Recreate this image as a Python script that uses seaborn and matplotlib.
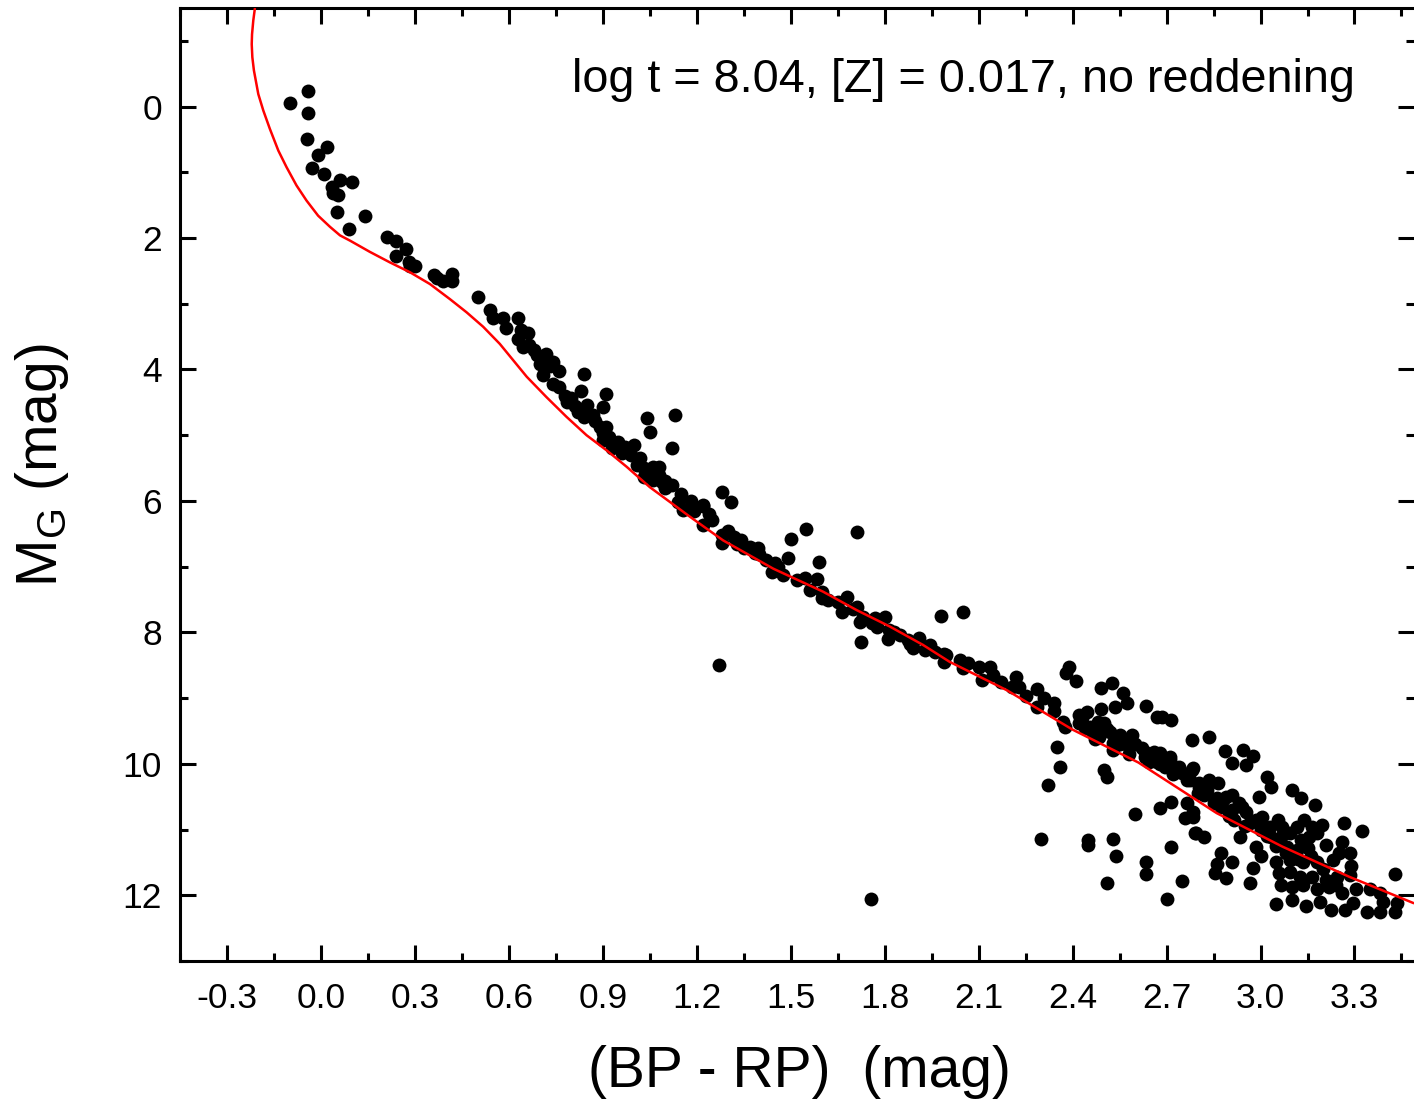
import numpy as np
import pandas as pd
import seaborn as sns
import matplotlib.pyplot as plt
from matplotlib.ticker import MultipleLocator

# upper main sequence (B/A stars)
upper_bp = [-0.10, -0.04, -0.04, -0.045, 0.02, -0.01, -0.03, 0.01, 0.06, 0.10, 0.035, 0.04, 0.055, 0.05,
            0.14, 0.09, 0.21, 0.24, 0.27, 0.24, 0.28, 0.30, 0.285, 0.36, 0.39, 0.42, 0.42, 0.37]
upper_mg = [-0.05, -0.23, 0.09, 0.49, 0.62, 0.74, 0.94, 1.03, 1.12, 1.14, 1.23, 1.32, 1.34, 1.61,
            1.67, 1.87, 1.98, 2.04, 2.16, 2.28, 2.36, 2.43, 2.42, 2.57, 2.66, 2.54, 2.66, 2.61]

# F/G stars
mid_bp = [0.50, 0.54, 0.55, 0.58, 0.63, 0.59, 0.64, 0.66, 0.63, 0.645, 0.665, 0.69, 0.72, 0.74, 0.70,
          0.71, 0.76, 0.74, 0.76, 0.84, 0.83, 0.785, 0.80, 0.85, 0.82, 0.84, 0.91, 0.90, 0.875, 0.89,
          0.91, 0.90, 0.92, 0.90, 1.04, 1.13, 1.05, 1.12, 0.93, 0.97, 1.00, 0.96, 1.02, 1.01, 1.03,
          1.06, 1.08, 1.03, 1.06, 1.08, 1.09, 1.12, 1.10, 1.14, 1.155, 1.19, 1.22,
          0.68, 0.73, 0.78, 0.81, 0.87, 0.95, 0.99, 1.05, 1.10, 1.15, 1.18]
mid_mg = [2.89, 3.09, 3.22, 3.21, 3.22, 3.37, 3.40, 3.44, 3.53, 3.66, 3.63, 3.78, 3.77, 3.88, 3.91,
          4.09, 4.03, 4.22, 4.27, 4.07, 4.32, 4.50, 4.44, 4.54, 4.64, 4.73, 4.38, 4.57, 4.79, 4.88,
          4.88, 4.97, 5.03, 5.08, 4.74, 4.70, 4.95, 5.20, 5.20, 5.18, 5.15, 5.27, 5.35, 5.46, 5.50,
          5.49, 5.49, 5.64, 5.68, 5.61, 5.71, 5.76, 5.81, 6.02, 6.14, 6.14, 6.06,
          3.70, 3.95, 4.40, 4.55, 4.70, 5.10, 5.30, 5.55, 5.70, 5.90, 6.00]

# K stars
k_bp = [1.28, 1.31, 1.22, 1.19, 1.25, 1.22, 1.28, 1.28, 1.32, 1.34, 1.35, 1.37, 1.395, 1.385, 1.42,
        1.50, 1.55, 1.71, 1.49, 1.46, 1.44, 1.475, 1.59, 1.52, 1.545, 1.585, 1.56, 1.60, 1.60, 1.65,
        1.68, 1.665, 1.71, 1.73, 1.72, 1.77, 1.80, 1.775, 1.815, 1.81, 1.85, 1.725, 1.875, 1.91, 1.89,
        1.93, 1.945, 1.98, 1.995, 1.27, 1.24, 1.30, 1.33, 1.40, 1.45, 1.62, 1.70, 1.76, 1.83, 1.88, 1.96]
k_mg = [5.87, 6.02, 6.08, 6.16, 6.29, 6.37, 6.52, 6.64, 6.55, 6.60, 6.72, 6.70, 6.72, 6.79, 6.90,
        6.58, 6.43, 6.47, 6.87, 7.01, 7.08, 7.13, 6.93, 7.20, 7.17, 7.19, 7.36, 7.39, 7.48, 7.54,
        7.46, 7.69, 7.61, 7.77, 7.84, 7.78, 7.77, 7.92, 7.96, 8.10, 8.04, 8.15, 8.12, 8.09, 8.24,
        8.27, 8.19, 7.75, 8.34, 8.50, 6.20, 6.45, 6.65, 6.80, 6.95, 7.50, 7.65, 7.85, 8.00, 8.18, 8.30]

# early M stars
em_bp = [2.05, 1.99, 1.99, 2.04, 2.065, 2.05, 2.10, 2.135, 2.11, 2.145, 2.17, 2.22, 2.205, 2.23, 2.25,
         2.285, 2.285, 2.31, 2.34, 2.34, 2.37, 2.375, 2.35, 2.36, 2.32, 2.39, 2.38, 2.41, 2.49, 2.525,
         2.56, 2.575, 2.535, 2.49, 2.635, 2.67, 2.42, 2.445, 2.42, 2.455, 2.48, 2.50, 2.465, 2.485, 2.52,
         2.55, 2.59, 2.53, 2.55, 2.58, 2.62, 2.53, 2.63, 2.645, 2.50, 2.51,
         2.54, 2.57, 2.68, 2.71, 2.74, 2.78, 2.765, 2.805,
         2.43, 2.47, 2.51, 2.56, 2.60, 2.63, 2.66, 2.47, 2.44, 2.58, 2.68, 2.72]
em_mg = [7.69, 8.33, 8.45, 8.42, 8.47, 8.54, 8.53, 8.53, 8.72, 8.65, 8.75, 8.68, 8.83, 8.83, 8.97,
         8.86, 9.13, 9.00, 9.07, 9.19, 9.36, 9.44, 9.74, 10.05, 10.32, 8.53, 8.62, 8.74, 8.84, 8.77,
         8.92, 9.07, 9.13, 9.16, 9.12, 9.29, 9.26, 9.21, 9.38, 9.44, 9.36, 9.38, 9.53, 9.59, 9.51,
         9.56, 9.56, 9.68, 9.70, 9.74, 9.76, 9.79, 9.89, 9.97, 10.09, 10.20,
         9.59, 9.64, 9.83, 9.94, 10.05, 10.09, 10.24, 10.29,
         9.30, 9.45, 9.47, 9.62, 9.70, 9.82, 9.90, 9.62, 9.45, 9.85, 10.00, 10.15]

# stars below the sequence
low_bp = [2.30, 2.45, 2.45, 2.53, 2.54, 2.51, 2.60, 2.635, 2.635, 2.68, 2.715, 2.715, 2.75, 2.70,
          2.76, 2.79, 2.785, 2.765, 1.755]
low_mg = [11.14, 11.16, 11.23, 11.14, 11.41, 11.81, 10.76, 11.50, 11.67, 10.67, 10.58, 11.26, 11.79, 12.05,
          10.82, 11.05, 10.81, 10.59, 12.05]

# late M stars
lm_bp = [2.685, 2.715, 2.78, 2.835, 2.885, 2.945, 2.975, 2.91, 2.955, 3.02, 3.035, 2.995, 3.10, 3.13,
         3.175, 3.265, 3.325, 3.43,
         2.66, 2.71, 2.67, 2.695, 2.73, 2.75, 2.785, 2.775, 2.805, 2.835, 2.865, 2.82, 2.86, 2.89, 2.91,
         2.875, 2.91, 2.94, 2.955, 2.915, 2.965, 2.985, 3.005, 3.005, 3.03, 3.055, 3.07, 3.035, 3.065,
         3.095, 3.115, 3.14, 3.165, 3.195, 3.13, 3.155, 3.18, 3.085, 3.115, 3.15, 3.21, 3.26, 3.23,
         3.25, 3.285, 3.29, 3.05, 3.095, 3.135, 3.18, 3.06, 3.095, 3.125, 3.165, 3.21, 3.245, 3.285,
         3.065, 3.10, 3.135, 3.18, 3.22, 3.26, 3.305, 3.35, 3.38, 3.39, 3.10, 3.145, 3.19, 3.225,
         3.27, 3.295, 3.34, 3.38, 3.43, 3.435, 3.05, 2.785, 2.795, 2.82, 2.875, 2.86, 2.855, 2.91,
         2.89, 2.975, 2.965, 2.935, 2.985, 3.00,
         2.80, 2.85, 2.90, 2.95, 2.83, 2.88, 2.93, 3.00, 3.05, 3.08, 3.12, 3.16, 3.20, 3.24, 3.02]
lm_mg = [9.29, 9.33, 9.64, 9.59, 9.80, 9.79, 9.88, 9.98, 10.02, 10.20, 10.35, 10.50, 10.40, 10.52,
         10.62, 10.90, 11.02, 11.67,
         9.82, 9.89, 9.97, 10.05, 10.09, 10.14, 10.06, 10.24, 10.35, 10.24, 10.29, 10.47, 10.52, 10.50, 10.47,
         10.65, 10.70, 10.65, 10.74, 10.85, 10.90, 10.85, 10.81, 10.97, 10.96, 10.85, 10.96, 11.11, 11.11,
         11.05, 10.96, 10.85, 10.96, 10.93, 11.16, 11.11, 11.05, 11.26, 11.31, 11.28, 11.23, 11.19, 11.46,
         11.35, 11.35, 11.56, 11.49, 11.46, 11.49, 11.50, 11.66, 11.64, 11.72, 11.72, 11.76, 11.72, 11.69,
         11.84, 11.87, 11.84, 11.91, 11.87, 11.96, 11.91, 11.91, 11.96, 12.10, 12.07, 12.17, 12.10, 12.22,
         12.22, 12.11, 12.26, 12.26, 12.26, 12.11, 12.13, 10.74, 11.05, 11.11, 11.35, 11.53, 11.66, 11.50,
         11.73, 11.58, 11.81, 11.11, 11.26, 11.41,
         10.45, 10.60, 10.80, 10.95, 10.40, 10.55, 10.60, 11.00, 11.25, 11.35, 11.45, 11.40, 11.60, 11.85, 11.10]

# isochrone, log t = 8.04, Z = 0.017
iso_bp = [-0.211, -0.216, -0.220, -0.221, -0.219, -0.214, -0.207, -0.200, -0.184, -0.163, -0.136,
          -0.110, -0.078, -0.046, -0.009, 0.029, 0.061, 0.093, 0.156, 0.220, 0.284, 0.348, 0.412,
          0.465, 0.518, 0.571, 0.657, 0.720, 0.784, 0.848, 0.912, 0.976, 1.050, 1.178, 1.284, 1.444,
          1.603, 1.710, 1.816, 1.922, 2.008, 2.19, 2.40, 2.61, 2.86, 3.07, 3.284, 3.489]
iso_mg = [-1.49, -1.31, -1.10, -0.95, -0.75, -0.55, -0.37, -0.19, 0.06, 0.34, 0.67,
          0.92, 1.20, 1.43, 1.66, 1.83, 1.96, 2.04, 2.21, 2.37, 2.52, 2.70, 2.93,
          3.13, 3.35, 3.61, 4.11, 4.42, 4.72, 5.00, 5.23, 5.48, 5.79, 6.24, 6.60, 7.03,
          7.38, 7.66, 7.91, 8.19, 8.45, 8.88, 9.48, 9.98, 10.75, 11.26, 11.72, 12.12]

stars = pd.DataFrame({
    'bp_rp': np.concatenate([upper_bp, mid_bp, k_bp, em_bp, low_bp, lm_bp]),
    'mg': np.concatenate([upper_mg, mid_mg, k_mg, em_mg, low_mg, lm_mg]),
})

sns.set_style('ticks')
plt.rcParams['font.family'] = ['Liberation Sans', 'DejaVu Sans']
plt.rcParams['mathtext.fontset'] = 'custom'
plt.rcParams['mathtext.rm'] = 'Liberation Sans'
plt.rcParams['mathtext.it'] = 'Liberation Sans:italic'
plt.rcParams['axes.unicode_minus'] = False
for key in ['text.color', 'axes.labelcolor', 'xtick.color', 'ytick.color', 'axes.edgecolor']:
    plt.rcParams[key] = 'black'

fig = plt.figure(figsize=(14.14, 11.02), dpi=100)
ax = fig.add_axes([180 / 1414, 141 / 1102, 1234 / 1414, 953 / 1102])

sns.scatterplot(data=stars, x='bp_rp', y='mg', color='black', s=100, linewidth=0, ax=ax, zorder=2)
sns.lineplot(x=iso_bp, y=iso_mg, sort=False, estimator=None, color='red', linewidth=1.8, ax=ax, zorder=3)

ax.set_xlim(-0.45, 3.49)
ax.set_ylim(13, -1.5)
ax.xaxis.set_minor_locator(MultipleLocator(0.15))
ax.yaxis.set_minor_locator(MultipleLocator(1))
ax.set_xticks(np.arange(-0.3, 3.31, 0.3))
ax.set_xticklabels(['%.1f' % v for v in np.arange(-0.3, 3.31, 0.3)])
ax.set_yticks(np.arange(0, 12.1, 2))
ax.set_yticklabels(['%d' % v for v in np.arange(0, 12.1, 2)])

ax.tick_params(which='both', direction='in', top=True, right=True, width=2.2, labelsize=25.5)
ax.tick_params(axis='x', pad=15)
ax.tick_params(axis='y', pad=13)
ax.tick_params(which='major', length=11.5)
ax.tick_params(which='minor', length=5.8)
for side in ['left', 'bottom', 'top']:
    ax.spines[side].set_linewidth(2.2)
ax.spines['right'].set_visible(False)

ax.set_xlabel('(BP - RP)  (mag)', fontsize=41, va='center')
ax.xaxis.set_label_coords(0.502, -0.1165)
ax.set_ylabel(r'M$_\mathrm{G}$ (mag)', fontsize=41, va='center')
ax.yaxis.set_label_coords(-0.112, 0.52)

ax.text(0.952, 0.912, 'log t = 8.04, [Z] = 0.017, no reddening', transform=ax.transAxes,
        ha='right', va='baseline', fontsize=33.7)

fig.savefig('out.png', dpi=100)
